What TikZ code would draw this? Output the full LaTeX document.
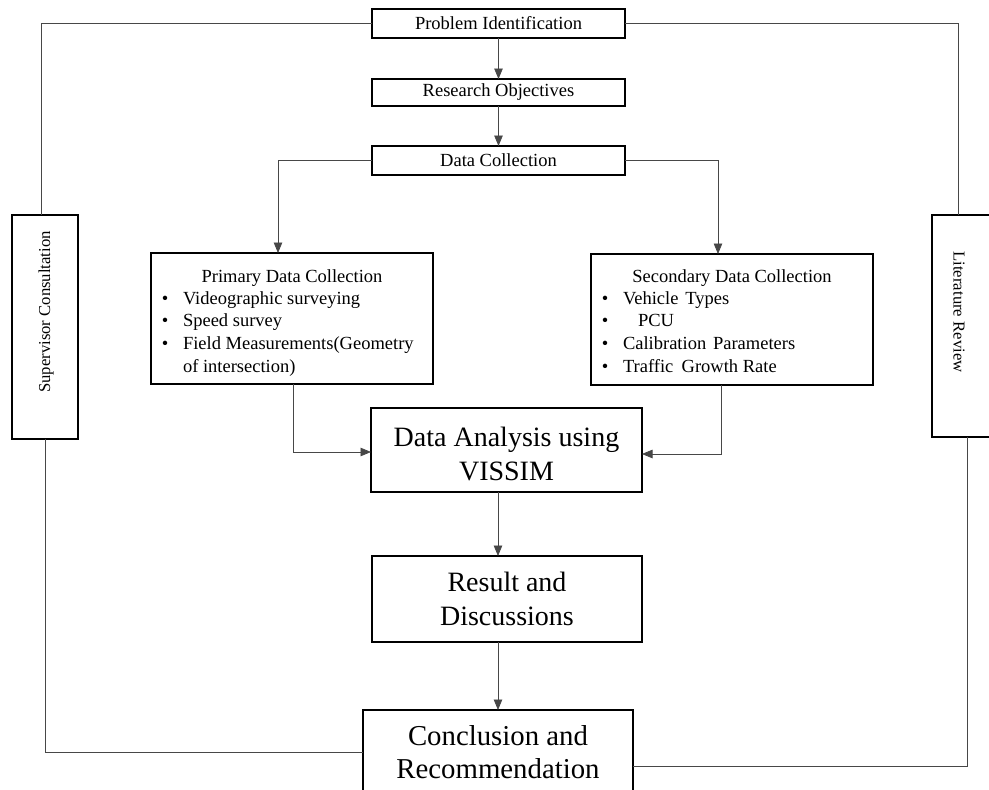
\documentclass[tikz,border=0pt]{standalone}
\usepackage{fontspec}
\setmainfont{Liberation Serif}
\usetikzlibrary{arrows.meta}
\begin{document}
\begin{tikzpicture}[x=1pt,y=-1pt,
 box/.style={draw=black, line width=1.1pt, inner sep=0pt, outer sep=0pt, align=center},
 conn/.style={draw=black!72, line width=0.8pt},
 arr/.style={conn, -{Triangle[length=10.5pt,width=8.5pt]}},
 small/.style={font=\fontsize{18.5}{22}\selectfont},
 big/.style={font=\fontsize{28}{34}\selectfont},
 side/.style={font=\fontsize{16.7}{20}\selectfont},
 txt/.style={inner sep=0pt, outer sep=0pt},
]
\useasboundingbox (0,0) rectangle (989,790);
\fill[white] (0,0) rectangle (989,790);

% main chain
\node[box, small, minimum width=253pt, minimum height=29pt] (prob) at (498.5,23.5) {Problem Identification};
\node[box, small, minimum width=253pt, minimum height=27pt] (res) at (498.5,92.5) {Research Objectives};
\node[box, small, minimum width=253pt, minimum height=29pt] (dc) at (498.5,160.5) {Data Collection};

\node[box, minimum width=282pt, minimum height=131pt] (prim) at (292,318.5) {};
\node[box, minimum width=282pt, minimum height=131pt] (sec) at (732,319.5) {};

\node[box, minimum width=271pt, minimum height=84pt] (da) at (506.5,450) {};
\node[big, txt, align=center] (dat) at (506.5,454) {Data Analysis using\\VISSIM};
\node[box, big, minimum width=270pt, minimum height=86pt] (rd) at (507,599) {Result and\\Discussions};
\node[box, font=\fontsize{28.8}{33}\selectfont, minimum width=270pt, minimum height=84pt] (concl) at (498,752) {Conclusion and\\Recommendation};

% side boxes
\node[box, minimum width=66pt, minimum height=224pt] (sup) at (45,327) {};
\node[side, txt, rotate=90] (supt) at (46,312) {Supervisor Consultation};
\node[box, minimum width=62pt, minimum height=222pt] (lit) at (963,326) {};
\node[side, txt, rotate=-90] (litt) at (959,312) {Literature Review};

% primary text
\node[small, txt, anchor=base] (pt) at (292,282) {Primary Data Collection};
\node[small, txt, anchor=base] (pb1) at (165,304) {•};
\node[small, txt, anchor=base west] (pi1) at (183,304) {Videographic surveying};
\node[small, txt, anchor=base] (pb2) at (165,326) {•};
\node[small, txt, anchor=base west] (pi2) at (183,326) {Speed survey};
\node[small, txt, anchor=base] (pb3) at (165,349) {•};
\node[small, txt, anchor=base west] (pi3) at (183,349) {Field Measurements(Geometry};
\node[small, txt, anchor=base west] (pi4) at (183,372) {of intersection)};

% secondary text
\node[small, txt, anchor=base] (st) at (732,282) {Secondary Data Collection};
\node[small, txt, anchor=base] (sb1) at (605,304) {•};
\node[small, txt, anchor=base west] (si1) at (623,304) {Vehicle\hspace{0.12em} Types};
\node[small, txt, anchor=base] (sb2) at (605,326) {•};
\node[small, txt, anchor=base west] (si2) at (638,326) {PCU};
\node[small, txt, anchor=base] (sb3) at (605,349) {•};
\node[small, txt, anchor=base west] (si3) at (623,349) {Calibration\hspace{0.12em} Parameters};
\node[small, txt, anchor=base] (sb4) at (605,372) {•};
\node[small, txt, anchor=base west] (si4) at (623,372) {Traffic\hspace{0.2em} Growth Rate};

% connectors
\draw[conn] (prob.west) -| ([xshift=-4pt]sup.north);
\draw[conn] (prob.east) -| ([xshift=-5pt]lit.north);
\draw[arr] (prob) -- (res);
\draw[arr] (res) -- (dc);
\draw[arr] (dc.west) -| ([xshift=-14pt]prim.north);
\draw[arr] (dc.east) -| ([xshift=-14pt]sec.north);
\draw[arr] ([xshift=1pt]prim.south) |- ([yshift=-2pt]da.west);
\draw[arr] ([xshift=-11pt]sec.south) |- ([yshift=-4pt]da.east);
\draw[arr] (da.south -| concl.north) -- (rd.north -| concl.north);
\draw[arr] (rd.south -| concl.north) -- (concl.north);
\draw[conn] (sup.south) |- (concl.west);
\draw[conn] ([xshift=4pt]lit.south) |- ([yshift=-14pt]concl.east);
\end{tikzpicture}
\end{document}
